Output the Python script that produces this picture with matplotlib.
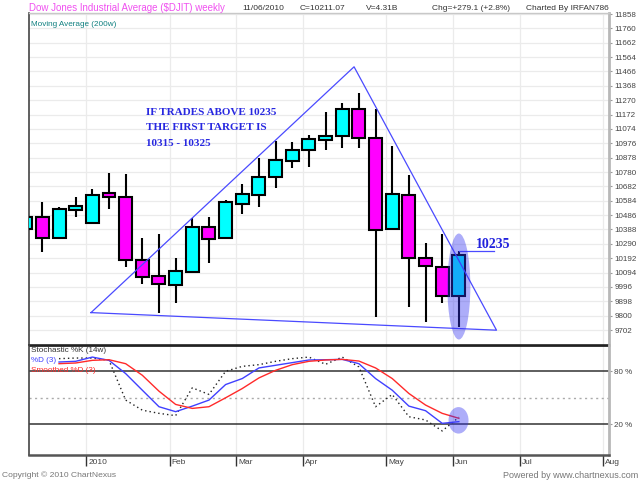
import numpy as np
import matplotlib
matplotlib.use("Agg")
import matplotlib.pyplot as plt
from matplotlib.patches import Ellipse

# ---------------- data ----------------
weeks = list(range(-4, 23))  # weekly bars, 0 = first week of Jan 2010
opens  = [10389, 10475, 10328, 10521, 10435, 10635, 10612, 10180, 10071, 10010,
          10100, 10407, 10332, 10565, 10623, 10744, 10857, 10930, 10999, 11026,
          11210, 11014, 10392, 10623, 10192, 10134, 9934]
highs  = [10480, 10574, 10544, 10612, 10662, 10775, 10767, 10328, 10357, 10192,
          10465, 10471, 10589, 10696, 10874, 10994, 10987, 11033, 11192, 11253,
          11317, 11208, 10958, 10760, 10298, 10357, 10240]
lows   = [10385, 10237, 10328, 10475, 10435, 10526, 10134, 10014, 9821, 9885,
          10100, 10158, 10332, 10497, 10544, 10673, 10806, 10816, 10930, 10942,
          10942, 9793, 10392, 9862, 9759, 9885, 9725]
closes = [10475, 10328, 10526, 10550, 10623, 10612, 10180, 10066, 10014, 10105,
          10407, 10323, 10574, 10628, 10748, 10862, 10930, 11005, 11028, 11210,
          11014, 10385, 10628, 10192, 10141, 9934, 10211]

stoch_weeks = list(range(-2, 23))
pct_k = [94.3, 95.0, 95.0, 92.4, 47.4, 36.0, 32.4, 29.8, 61.3, 53.8, 80.0, 85.6,
         87.5, 91.3, 94.3, 96.1, 87.9, 96.1, 84.9, 39.9, 53.8, 28.6, 24.9, 12.5, 28.0]
pct_d = [90.5, 91.3, 96.1, 92.4, 77.4, 58.6, 39.9, 34.3, 40.6, 47.4, 65.0, 71.8,
         83.8, 86.8, 89.8, 92.8, 93.1, 93.5, 88.6, 71.8, 58.6, 40.6, 35.4, 21.1, 23.0]
smooth_d = [88.6, 89.4, 92.4, 93.1, 88.6, 75.5, 57.5, 42.5, 38.0, 39.9, 50.0, 60.5,
            72.5, 81.1, 87.5, 91.3, 92.8, 93.5, 91.6, 83.8, 71.8, 54.9, 41.8, 32.4, 26.8]

month_labels = ["2010", "Feb", "Mar", "Apr", "May", "Jun", "Jul", "Aug"]
month_weeks = [0, 5, 9, 13, 18, 22, 26, 31]

price_ticks = list(range(9702, 11859, 98))

trend_x = [-0.08, 15.71, 24.26, -0.08]
trend_y = [9821, 11498, 9701, 9821]

note_lines = ["IF TRADES ABOVE 10235", "THE FIRST TARGET IS", "10315 - 10325"]
level_label = "10235"
level_price = 10240

# ---------------- figure ----------------
W, H = 640, 480
fig = plt.figure(figsize=(6.4, 4.8), dpi=100)
fig.patch.set_facecolor("white")
SANS = ["Liberation Sans", "DejaVu Sans"]
SERIF = ["Liberation Serif", "DejaVu Serif"]

def box(l, r, t, b):
    return [l / W, 1 - b / H, (r - l) / W, (b - t) / H]

ax = fig.add_axes(box(28.7, 609.3, 13, 344.7))
ax2 = fig.add_axes(box(28.7, 609.3, 344.7, 454.7), sharex=ax)

xmin, xmax = -3.82, 31.03
ax.set_xlim(xmin, xmax)
ax.set_ylim(9602, 11865)
ax2.set_ylim(-14.4, 110.1)

tick_pos = [w - 0.36 for w in month_weeks]
grid_c = "#ebebeb"

for a in (ax, ax2):
    a.set_facecolor("white")
    for x in tick_pos:
        a.axvline(x, color=grid_c, lw=0.9, zorder=0)
    a.spines["left"].set_color("#444444")
    a.spines["left"].set_linewidth(1.2)
    a.spines["right"].set_color("#b8b8b8")
    a.spines["right"].set_linewidth(2.0)

for p in price_ticks:
    ax.axhline(p, color=grid_c, lw=0.9, zorder=0)

ax.spines["top"].set_color("#c8c8c8")
ax.spines["top"].set_linewidth(1.0)
ax.spines["bottom"].set_color("#222222")
ax.spines["bottom"].set_linewidth(1.2)
ax2.spines["top"].set_visible(False)
ax2.spines["bottom"].set_color("#555555")
ax2.spines["bottom"].set_linewidth(1.8)

# right y labels
ax.yaxis.tick_right()
ax.set_yticks(price_ticks)
ax.set_yticklabels([str(p) for p in price_ticks])
ax.tick_params(axis="y", length=2, width=0.8, colors="#999999", labelcolor="#444444",
               labelsize=5.8, pad=1.5)
for t in ax.get_yticklabels():
    t.set_family(SANS)
ax.tick_params(axis="x", bottom=False, labelbottom=False)

ax2.yaxis.tick_right()
ax2.set_yticks([80, 20])
ax2.set_yticklabels(["80 %", "20 %"])
ax2.tick_params(axis="y", length=2, width=0.8, colors="#999999", labelcolor="#444444",
                labelsize=5.8, pad=1.5)
for t in ax2.get_yticklabels():
    t.set_family(SANS)

ax2.set_xticks(tick_pos)
ax2.set_xticklabels([""] * len(tick_pos))
ax2.tick_params(axis="x", length=8.2, width=1.0, colors="#333333", direction="out")
for x, lab in zip(tick_pos, month_labels):
    ax2.annotate(lab, xy=(x, 0), xycoords=("data", "axes fraction"),
                 xytext=(2, -7.5), textcoords="offset pixels", ha="left", va="center",
                 fontsize=6.0, color="#444444", family=SANS)

# ---------------- candles ----------------
body_w = 0.78
wx = np.array(weeks, dtype=float)
o = np.array(opens, float); c = np.array(closes, float)
hi = np.array(highs, float); lo = np.array(lows, float)
ax.vlines(wx, lo, hi, color="black", lw=1.5, zorder=2)
up = c >= o
colors = np.where(up, "#00ffff", "#ff00ff")
bottoms = np.minimum(o, c)
heights = np.maximum(np.abs(c - o), 8)
ax.bar(wx, heights, bottom=bottoms, width=body_w, color=colors, edgecolor="black",
       linewidth=1.5, zorder=3)

# trend lines
ax.plot(trend_x, trend_y, color="#4a4aff", lw=0.9, zorder=4)

# level marker
last_x = weeks[-1]
ax.plot([last_x, last_x + 2.1], [level_price, level_price], color="#4a4aff", lw=0.9, zorder=4)
ax.text(last_x + 1.05, level_price + 48, level_label, color="#2222dd", fontsize=10,
        fontweight="bold", family=SERIF, ha="left", va="center", zorder=6)

# note text
for i, line in enumerate(note_lines):
    ax.annotate(line, xy=(3.22, 11185), xycoords="data", xytext=(0, -15.3 * i),
                textcoords="offset pixels", color="#2828e0", fontsize=8,
                fontweight="bold", family=SERIF, ha="left", va="center", zorder=6)

# highlight ellipse (main)
ax.add_patch(Ellipse((last_x, 9999), 1.38, 723, facecolor="#3232f0", alpha=0.4,
                     edgecolor="none", zorder=5))

# ---------------- stochastic ----------------
ax2.axhline(80, color="#333333", lw=1.1, zorder=1)
ax2.axhline(20, color="#333333", lw=1.1, zorder=1)
ax2.axhline(50, color="#aaaaaa", lw=1.0, ls=(0, (1.5, 2.5)), zorder=1)
ax2.axhline(110.1, color="#222222", lw=2.0, zorder=1)

ax2.plot(stoch_weeks, pct_k, color="#222222", lw=1.0, ls=(0, (1, 2.2)), zorder=3)
ax2.plot(stoch_weeks, pct_d, color="#4040ff", lw=1.0, zorder=3)
ax2.plot(stoch_weeks, smooth_d, color="#ff2a2a", lw=1.0, zorder=3)

ax2.add_patch(Ellipse((last_x - 0.02, 24.5), 1.2, 30, facecolor="#3232f0", alpha=0.4,
                      edgecolor="none", zorder=5))

def ptext(x, y, s, color, size=5.8, ha="left", **kw):
    fig.text(x / W, 1 - y / H, s, color=color, fontsize=size, ha=ha, va="center",
             family=SANS, **kw)

ptext(31, 351, "Stochastic %K (14w)", "#333333", size=5.9)
ptext(31, 360.7, "%D (3)", "#4040ff", size=5.9)
ptext(31, 370.3, "Smoothed %D (3)", "#ff2a2a", size=5.9)

# ---------------- header / footer ----------------
ptext(29, 8, "Dow Jones Industrial Average ($DJIT) weekly", "#f050f0", size=7.0)
ptext(242, 8, "11/06/2010", "#333333", size=6.0)
ptext(300, 8, "C=10211.07", "#333333", size=6.0)
ptext(366, 8, "V=4.31B", "#333333", size=6.0)
ptext(432, 8, "Chg=+279.1 (+2.8%)", "#333333", size=6.0)
ptext(526, 8, "Charted By IRFAN786", "#333333", size=6.0)
ptext(31, 25, "Moving Average (200w)", "#108080", size=5.9)
ptext(2, 475, "Copyright \u00a9 2010 ChartNexus", "#777777", size=6.1)
ptext(638, 475, "Powered by www.chartnexus.com", "#777777", size=6.5, ha="right")

fig.savefig("out.png", dpi=100)
